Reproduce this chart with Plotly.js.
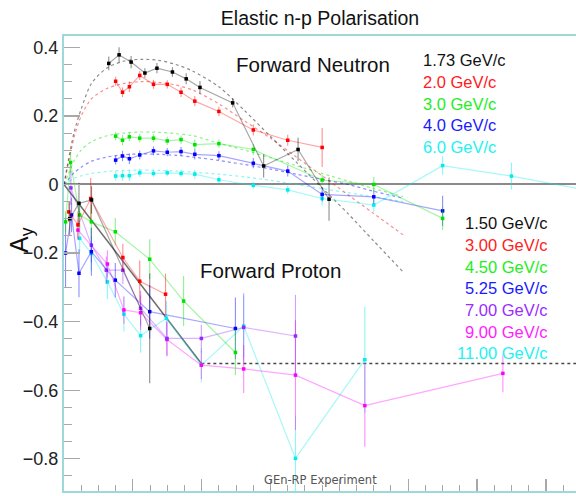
<!DOCTYPE html>
<html><head><meta charset="utf-8">
<script src="https://cdn.plot.ly/plotly-3.0.1.min.js"></script>
<style>html,body{margin:0;padding:0;background:#fff}#chart{width:576px;height:496px}</style>
</head><body><div id="chart"></div>
<script>
// ---------- Forward neutron data ----------
const nBlackX = [2.6, 3.2, 3.9, 4.7, 5.4, 6.3, 7.1, 7.9, 9.8, 11.6, 13.6, 15.4];
const nBlackY = [0.353, 0.378, 0.357, 0.325, 0.339, 0.328, 0.308, 0.283, 0.238, 0.054, 0.102, -0.043];
const nBlackE = [0.020, 0.022, 0.018, 0.014, 0.015, 0.014, 0.016, 0.019, 0.013, 0.034, 0.034, 0.063];

const nRedX = [3.0, 3.4, 3.8, 4.4, 5.2, 6.0, 6.8, 7.6, 9.0, 11.0, 13.0, 15.0];
const nRedY = [0.301, 0.269, 0.285, 0.318, 0.292, 0.292, 0.269, 0.243, 0.213, 0.159, 0.129, 0.108];
const nRedE = [0.013, 0.014, 0.015, 0.013, 0.013, 0.012, 0.014, 0.015, 0.014, 0.016, 0.016, 0.057];

const nGreenX = [3.0, 3.4, 3.8, 4.4, 5.2, 6.0, 6.8, 7.6, 9.0, 11.0, 15.0, 18.0, 22.0];
const nGreenY = [0.141, 0.129, 0.139, 0.135, 0.135, 0.127, 0.131, 0.116, 0.119, 0.102, 0.013, 0.0, -0.099];
const nGreenE = [0.012, 0.015, 0.012, 0.012, 0.012, 0.012, 0.012, 0.015, 0.012, 0.015, 0.015, 0.022, 0.034];

const nBlueX = [3.0, 3.4, 3.8, 4.4, 5.2, 6.0, 6.8, 7.6, 9.0, 11.0, 13.0, 15.0, 18.0, 22.0];
const nBlueY = [0.071, 0.083, 0.075, 0.086, 0.098, 0.094, 0.096, 0.088, 0.084, 0.062, 0.039, -0.029, -0.036, -0.077];
const nBlueE = [0.013, 0.015, 0.015, 0.013, 0.013, 0.012, 0.013, 0.015, 0.013, 0.015, 0.016, 0.02, 0.02, 0.044];

const nCyanX = [3.0, 3.4, 3.8, 4.4, 5.2, 6.0, 6.8, 7.6, 9.0, 11.0, 13.0, 15.0, 18.0, 22.0, 26.0, 30.0];
const nCyanY = [0.0245, 0.0254, 0.0254, 0.034, 0.032, 0.034, 0.032, 0.030, 0.0137, -0.0026, -0.016, -0.041, -0.060, 0.055, 0.0245, -0.013];
const nCyanE = [0.013, 0.015, 0.015, 0.012, 0.010, 0.010, 0.010, 0.013, 0.010, 0.010, 0.012, 0.020, 0.020, 0.027, 0.039, 0];

// fitted curves (dotted)
const fitX      = [0, 0.25, 0.6, 1.0, 1.6, 2.5, 3.5, 4.5, 5.5, 6.5, 7.5, 9.0, 10.5, 12.0, 13.5, 15.0, 16.5, 18.0, 19.7];
const fitBlack  = [0, 0.07, 0.155, 0.22, 0.295, 0.34, 0.36, 0.365, 0.362, 0.35, 0.33, 0.285, 0.215, 0.14, 0.065, -0.01, -0.085, -0.165, -0.255];
const fitRed    = [0, 0.06, 0.14, 0.2, 0.25, 0.28, 0.295, 0.30, 0.298, 0.29, 0.275, 0.235, 0.185, 0.135, 0.08, 0.025, -0.03, -0.085, -0.147];
const fitGreen  = [0, 0.03, 0.07, 0.1, 0.125, 0.142, 0.15, 0.153, 0.152, 0.148, 0.142, 0.12, 0.10, 0.078, 0.055, 0.032, 0.01, -0.012, -0.035];
const fitBlue   = [0, 0.015, 0.035, 0.05, 0.068, 0.08, 0.087, 0.089, 0.088, 0.085, 0.08, 0.07, 0.058, 0.045, 0.03, 0.015, 0.0, -0.02, -0.04];
const fitCyan   = [0, 0.008, 0.018, 0.025, 0.032, 0.038, 0.041, 0.042, 0.041, 0.039, 0.036, 0.03, 0.022, 0.012, 0.0, -0.012, -0.024, -0.036, -0.05];

// ---------- Forward proton data ----------
const pBlackX = [0.33, 0.87, 1.6, 4.98];
const pBlackY = [-0.10, -0.055, -0.045, -0.42];
const pBlackE = [0.05, 0.06, 0.04, 0.16];

const pRedX = [0.28, 0.81, 1.55, 3.42, 4.4, 5.9];
const pRedY = [-0.08, -0.118, -0.041, -0.213, -0.282, -0.32];
const pRedE = [0.03, 0.04, 0.06, 0.04, 0.06, 0.06];

const pGreenX = [0.09, 0.38, 0.91, 1.59, 2.98, 4.98, 6.95, 9.96];
const pGreenY = [-0.109, 0.064, -0.089, -0.109, -0.138, -0.218, -0.34, -0.49];
const pGreenE = [0.03, 0.03, 0.04, 0.05, 0.04, 0.058, 0.073, 0.066];

const pBlueX = [0.09, 0.44, 0.87, 1.59, 2.98, 4.98, 9.96];
const pBlueY = [-0.2, -0.089, -0.259, -0.196, -0.279, -0.371, -0.42];
const pBlueE = [0.10, 0.05, 0.07, 0.07, 0.05, 0.078, 0.09];

const pVioletX = [0.4, 1.59, 2.46, 3.42, 4.45, 5.98, 7.98, 10.44, 13.45];
const pVioletY = [-0.01, -0.177, -0.25, -0.25, -0.361, -0.449, -0.449, -0.417, -0.442];
const pVioletE = [0.05, 0.05, 0.04, 0.04, 0.05, 0.05, 0.04, 0.10, 0.12];

const pMagentaX = [0.81, 2.52, 3.48, 4.45, 5.98, 7.98, 10.44, 13.45, 17.48, 25.5];
const pMagentaY = [-0.133, -0.232, -0.366, -0.374, -0.452, -0.527, -0.538, -0.556, -0.645, -0.551];
const pMagentaE = [0.03, 0.04, 0.04, 0.05, 0.05, 0.04, 0.07, 0.16, 0.12, 0.055];

const pCyanX = [0.91, 1.59, 2.52, 3.48, 4.45, 5.95, 7.98, 10.44, 13.45, 17.48];
const pCyanY = [-0.157, -0.201, -0.284, -0.378, -0.441, -0.39, -0.527, -0.413, -0.799, -0.511];
const pCyanE = [0.04, 0.05, 0.05, 0.05, 0.05, 0.05, 0.05, 0.09, 0.125, 0.155];

// model line for protons
const modelX = [0, 7.98];
const modelY = [0, -0.522];
const plateauX = [7.98, 29.75];
const plateauY = [-0.522, -0.522];

// labels
const neutronLabels = ['1.73 GeV/c', '2.0 GeV/c', '3.0 GeV/c', '4.0 GeV/c', '6.0 GeV/c'];
const protonLabels = ['1.50 GeV/c', '3.00 GeV/c', '4.50 GeV/c', '5.25 GeV/c', '7.00 GeV/c', '9.00 GeV/c', '11.00 GeV/c'];
const yTicks = [-0.8, -0.6, -0.4, -0.2, 0, 0.2, 0.4];

// ---------- styling ----------
const RGB = {black:'0,0,0', red:'255,0,0', green:'0,225,0', blue:'0,0,255', cyan:'0,235,235', violet:'150,40,255', magenta:'255,0,255'};
const TXT = {black:'#111', red:'#ff2020', green:'#22ee22', blue:'#1a1aff', cyan:'#22f2f2', violet:'#9a2cff', magenta:'#ff22ff'};
const FONT = 'Liberation Sans, Arial, Helvetica, sans-serif';

function dataTrace(x, y, e, col) {
  return {
    type: 'scatter', mode: 'lines+markers', x: x, y: y,
    line: {color: 'rgba(' + RGB[col] + ',0.35)', width: 1.2},
    marker: {color: 'rgb(' + RGB[col] + ')', size: 3.5, symbol: 'square'},
    error_y: {type: 'data', array: e, visible: true, color: 'rgba(' + RGB[col] + ',0.45)', thickness: 1.1, width: 0},
    hoverinfo: 'skip', showlegend: false, cliponaxis: true
  };
}
function fitTrace(y, col) {
  return {
    type: 'scatter', mode: 'lines', x: fitX, y: y,
    line: {color: 'rgba(' + RGB[col] + ',0.45)', width: 1.2, dash: 'dot', shape: 'spline', smoothing: 0.8},
    hoverinfo: 'skip', showlegend: false
  };
}

const traces = [
  fitTrace(fitCyan, 'cyan'), fitTrace(fitBlue, 'blue'), fitTrace(fitGreen, 'green'), fitTrace(fitRed, 'red'), fitTrace(fitBlack, 'black'),
  dataTrace(nCyanX, nCyanY, nCyanE, 'cyan'),
  dataTrace(nBlueX, nBlueY, nBlueE, 'blue'),
  dataTrace(nGreenX, nGreenY, nGreenE, 'green'),
  dataTrace(nRedX, nRedY, nRedE, 'red'),
  dataTrace(nBlackX, nBlackY, nBlackE, 'black'),
  {type:'scatter', mode:'lines', x: modelX, y: modelY, line:{color:'rgba(60,60,60,0.75)', width:1.5}, hoverinfo:'skip', showlegend:false},
  {type:'scatter', mode:'lines', x: plateauX, y: plateauY, line:{color:'rgba(40,40,40,0.85)', width:1.4, dash:'dot'}, hoverinfo:'skip', showlegend:false},
  dataTrace(pCyanX, pCyanY, pCyanE, 'cyan'),
  dataTrace(pMagentaX, pMagentaY, pMagentaE, 'magenta'),
  dataTrace(pVioletX, pVioletY, pVioletE, 'violet'),
  dataTrace(pBlueX, pBlueY, pBlueE, 'blue'),
  dataTrace(pGreenX, pGreenY, pGreenE, 'green'),
  dataTrace(pRedX, pRedY, pRedE, 'red'),
  dataTrace(pBlackX, pBlackY, pBlackE, 'black')
];

const colsN = ['black', 'red', 'green', 'blue', 'cyan'];
const colsP = ['black', 'red', 'green', 'blue', 'violet', 'magenta', 'cyan'];
const H = 455, TOP = 36;
function py(pix) { return 1 - (pix - TOP) / H; }
function px(pix) { return (pix - 64) / 512; }

const annotations = [];
neutronLabels.forEach((t, i) => annotations.push({
  text: t, xref: 'paper', yref: 'paper', x: px(421), y: py(60 + i * 21.8), xanchor: 'left', yanchor: 'middle',
  showarrow: false, font: {family: FONT, size: 16.5, color: TXT[colsN[i]]}
}));
protonLabels.forEach((t, i) => annotations.push({
  text: t, xref: 'paper', yref: 'paper', x: px(550), y: py(223.3 + i * 21.67), xanchor: 'right', yanchor: 'middle',
  showarrow: false, font: {family: FONT, size: 16.5, color: TXT[colsP[i]]}
}));
annotations.push({text: 'Forward Neutron', xref: 'paper', yref: 'paper', x: px(313), y: py(64), xanchor: 'center', yanchor: 'middle', showarrow: false, font: {family: FONT, size: 20.5, color: '#111'}});
annotations.push({text: 'Forward Proton', xref: 'paper', yref: 'paper', x: px(270), y: py(270), xanchor: 'center', yanchor: 'middle', showarrow: false, font: {family: FONT, size: 20.5, color: '#111'}});
annotations.push({text: 'GEn-RP Experiment', xref: 'paper', yref: 'paper', x: px(320), y: py(480), xanchor: 'center', yanchor: 'middle', showarrow: false, font: {family: 'DejaVu Sans, sans-serif', size: 11.5, color: '#555'}});
annotations.push({text: 'A<sub>y</sub>', xref: 'paper', yref: 'paper', x: px(21), y: py(240), xanchor: 'center', yanchor: 'middle', textangle: -90, showarrow: false, font: {family: FONT, size: 25, color: '#111'}});

const layout = {
  width: 576, height: 496,
  margin: {l: 64, r: 0, t: 36, b: 5, pad: 0},
  paper_bgcolor: '#fff', plot_bgcolor: '#fff',
  title: {text: 'Elastic n-p Polarisation', font: {family: FONT, size: 19.5, color: '#111'}, x: 0.5, xref: 'paper', y: 1 - 18 / 496, yref: 'container', yanchor: 'middle'},
  xaxis: {
    range: [0, 29.75], showticklabels: false, showgrid: false, zeroline: false,
    ticks: 'inside', tick0: 0, dtick: 4, ticklen: 12, tickwidth: 1.3, tickcolor: '#a8a8a8',
    minor: {ticks: 'inside', dtick: 1, ticklen: 6, tickwidth: 1, tickcolor: '#a8a8a8'},
    showline: true, linecolor: '#9fd8d8', linewidth: 2, mirror: true
  },
  yaxis: {
    range: [-0.894, 0.433], tickvals: yTicks, ticktext: yTicks.map(v => v === 0 ? '0' : (v < 0 ? '\u2212' + Math.abs(v).toFixed(1) : v.toFixed(1))),
    showgrid: false, zeroline: true, zerolinecolor: '#8a8a8a', zerolinewidth: 2,
    ticks: 'inside', ticklen: 16, tickwidth: 1.3, tickcolor: '#a8a8a8',
    minor: {ticks: 'inside', dtick: 0.05, ticklen: 8, tickwidth: 1, tickcolor: '#a8a8a8'},
    tickfont: {family: FONT, size: 18, color: '#222'},
    showline: true, linecolor: '#9fd8d8', linewidth: 2
  },
  annotations: annotations,
  showlegend: false
};

Plotly.newPlot('chart', traces, layout, {staticPlot: true, displayModeBar: false});
</script></body></html>
